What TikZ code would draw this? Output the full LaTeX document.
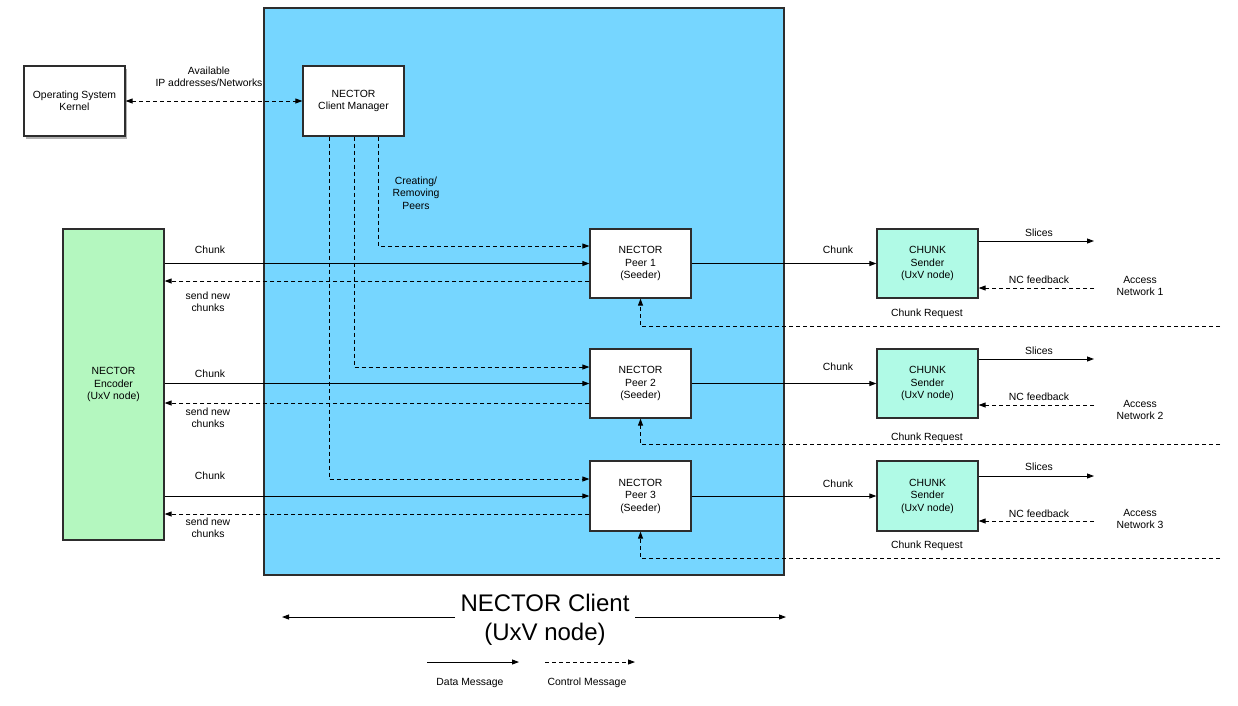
\documentclass[tikz,border=0pt]{standalone}
\usepackage{fontspec}
\setmainfont{Liberation Sans}
\usetikzlibrary{arrows.meta,shadows,positioning}
\definecolor{clientblue}{RGB}{118,214,255}
\definecolor{encgreen}{RGB}{180,247,191}
\definecolor{sendaqua}{RGB}{176,250,230}
\definecolor{edge}{RGB}{45,45,45}
\begin{document}
\begin{tikzpicture}[x=1pt,y=-1pt,
  box/.style={draw=edge,line width=1.2pt,minimum width=101pt,minimum height=70pt,inner sep=0pt,align=center,font=\fontsize{10.4}{12.5}\selectfont},
  lbl/.style={inner sep=0pt,align=center,font=\fontsize{10.4}{12.5}\selectfont},
  data/.style={draw=black,line width=0.9pt,-{Triangle[length=7pt,width=5pt]}},
  ctrl/.style={draw=black,line width=0.9pt,dash pattern=on 4pt off 3pt,-{Triangle[length=7pt,width=5pt]}},
]
\useasboundingbox (0,0) rectangle (1238,705);
% NECTOR client area
\node[draw=edge,line width=1.2pt,fill=clientblue,minimum width=520pt,minimum height=567pt,inner sep=0pt] (client) at (524,291.5) {};
% boxes
\node[box,fill=white,drop shadow={shadow xshift=1.5pt,shadow yshift=-3pt,opacity=0.5,fill=black!60}] (os) at (74.5,101) {Operating System\\Kernel};
\node[box,fill=white] (mgr) at (353.5,101) {NECTOR\\Client Manager};
\node[box,fill=encgreen,minimum height=311pt] (enc) at (113.5,384.5) {NECTOR\\Encoder\\(UxV node)};
\node[box,fill=white,minimum height=69pt] (p1) at (640.5,263.5) {NECTOR\\Peer 1\\(Seeder)};
\node[box,fill=white,minimum height=69pt] (p2) at (640.5,383.5) {NECTOR\\Peer 2\\(Seeder)};
\node[box,fill=white,minimum height=70pt] (p3) at (640.5,496) {NECTOR\\Peer 3\\(Seeder)};
\node[box,fill=sendaqua,minimum height=69pt] (s1) at (927.5,263.5) {CHUNK\\Sender\\(UxV node)};
\node[box,fill=sendaqua,minimum height=69pt] (s2) at (927.5,383.5) {CHUNK\\Sender\\(UxV node)};
\node[box,fill=sendaqua,minimum height=70pt] (s3) at (927.5,496) {CHUNK\\Sender\\(UxV node)};
% OS <-> manager
\draw[ctrl,{Triangle[length=7pt,width=5pt]}-{Triangle[length=7pt,width=5pt]}] (os.east) -- (mgr.west);
\node[lbl] (lavail) at (209,77) {Available\\IP addresses/Networks};
% manager -> peers
\draw[ctrl] ([xshift=25pt]mgr.south) |- ([yshift=17.5pt]p1.west);
\draw[ctrl] ([xshift=0.5pt]mgr.south) |- ([yshift=16.5pt]p2.west);
\draw[ctrl] ([xshift=-24.5pt]mgr.south) |- ([yshift=17pt]p3.west);
\node[lbl] (lcreate) at (416,193) {Creating/\\Removing\\Peers};
% encoder <-> peers
\draw[data] (enc.east |- p1.west) -- (p1.west);
\draw[ctrl] ([yshift=-17.5pt]p1.west) -- (enc.east |- {0,281});
\draw[data] (enc.east |- p2.west) -- (p2.west);
\draw[ctrl] ([yshift=-19.5pt]p2.west) -- (enc.east |- {0,403});
\draw[data] (enc.east |- p3.west) -- (p3.west);
\draw[ctrl] ([yshift=-18pt]p3.west) -- (enc.east |- {0,514});
\node[lbl] (lc1) at (210,250) {Chunk};
\node[lbl] (ls1) at (208,302) {send new\\chunks};
\node[lbl] (lc2) at (210,374) {Chunk};
\node[lbl] (ls2) at (208,418) {send new\\chunks};
\node[lbl] (lc3) at (210,476) {Chunk};
\node[lbl] (ls3) at (208,528) {send new\\chunks};
% peers -> senders
\draw[data] (p1.east) -- (s1.west);
\draw[data] (p2.east) -- (s2.west);
\draw[data] (p3.east) -- (s3.west);
\node[lbl] (lpc1) at (838,250) {Chunk};
\node[lbl] (lpc2) at (838,367) {Chunk};
\node[lbl] (lpc3) at (838,484) {Chunk};
% slices / feedback
\coordinate (sl1) at (1094,241);
\coordinate (sl2) at (1094,359);
\coordinate (sl3) at (1094,476);
\coordinate (nc1) at (1094,288);
\coordinate (nc2) at (1094,405);
\coordinate (nc3) at (1094,521);
\draw[data] (s1.east |- sl1) -- (sl1);
\draw[data] (s2.east |- sl2) -- (sl2);
\draw[data] (s3.east |- sl3) -- (sl3);
\draw[ctrl] (nc1) -- (s1.east |- nc1);
\draw[ctrl] (nc2) -- (s2.east |- nc2);
\draw[ctrl] (nc3) -- (s3.east |- nc3);
\node[lbl] (lsl1) at (1039,233) {Slices};
\node[lbl] (lsl2) at (1039,351) {Slices};
\node[lbl] (lsl3) at (1039,467) {Slices};
\node[lbl] (lnc1) at (1039,280) {NC feedback};
\node[lbl] (lnc2) at (1039,397) {NC feedback};
\node[lbl] (lnc3) at (1039,514) {NC feedback};
\node[lbl] (la1) at (1140,286) {Access\\Network 1};
\node[lbl] (la2) at (1140,410) {Access\\Network 2};
\node[lbl] (la3) at (1140,519) {Access\\Network 3};
% chunk requests
\coordinate (cr1) at (1220,326);
\coordinate (cr2) at (1220,444);
\coordinate (cr3) at (1220,558);
\draw[ctrl] (cr1) -| (p1.south);
\draw[ctrl] (cr2) -| (p2.south);
\draw[ctrl] (cr3) -| (p3.south);
\node[lbl] (lcr1) at (927,314) {Chunk Request};
\node[lbl] (lcr2) at (927,438) {Chunk Request};
\node[lbl] (lcr3) at (927,546) {Chunk Request};
% bottom title
\node[inner sep=0pt,align=center,font=\fontsize{24}{29}\selectfont] (title) at (545,620) {NECTOR Client\\(UxV node)};
\coordinate (tl) at (282,617);
\coordinate (tr) at (786,617);
\draw[data] (455,617) -- (tl);
\draw[data] (635,617) -- (tr);
% legend
\coordinate (d0) at (427,662);
\coordinate (d1) at (519,662);
\coordinate (c0) at (545,662);
\coordinate (c1) at (635,662);
\draw[data] (d0) -- (d1);
\draw[ctrl] (c0) -- (c1);
\node[lbl] (ldata) at (470,683) {Data Message};
\node[lbl] (lctrl) at (587,683) {Control Message};
\end{tikzpicture}
\end{document}
